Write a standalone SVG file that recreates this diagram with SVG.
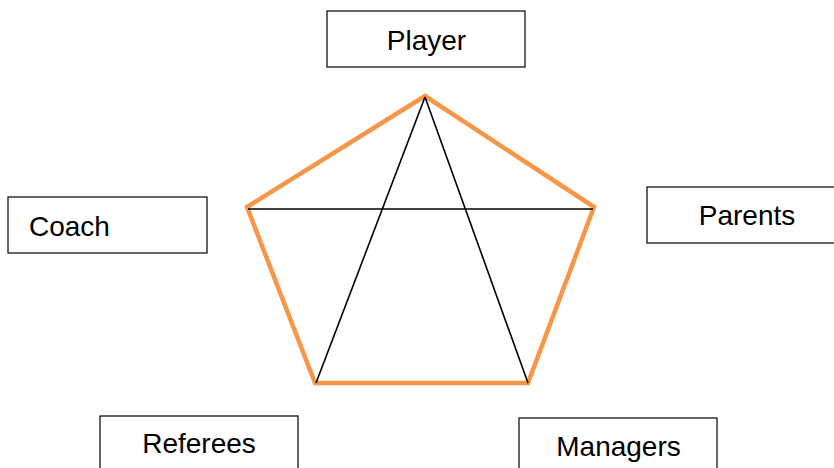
<svg xmlns="http://www.w3.org/2000/svg" width="834" height="468" viewBox="0 0 834 468">
<style>
.box{fill:#fff;stroke:#000;stroke-width:1.2}
.lbl{font-family:"Liberation Sans",Arial,sans-serif;font-size:28px;fill:#000;text-anchor:middle}
.pent{fill:none;stroke:#F79646;stroke-width:4.5;stroke-linejoin:miter}
.ln{stroke:#000;stroke-width:1.6;fill:none}
</style>
<rect width="834" height="468" fill="#fff"/>
<g id="connectors">
<polygon class="pent" points="425,96 594,207 528,383 315,383 247,207"/>
<line class="ln" x1="248" y1="209" x2="593" y2="209"/>
<line class="ln" x1="425" y1="97" x2="316" y2="383"/>
<line class="ln" x1="425" y1="97" x2="528" y2="383"/>
</g>
<g id="player"><rect class="box" x="327" y="11" width="198" height="56"/><text class="lbl" x="426.5" y="50">Player</text></g>
<g id="coach"><rect class="box" x="8" y="197" width="199" height="56"/><text class="lbl" x="29" y="236" style="text-anchor:start">Coach</text></g>
<g id="parents"><rect class="box" x="647" y="187" width="198" height="56"/><text class="lbl" x="747" y="225">Parents</text></g>
<g id="referees"><rect class="box" x="100" y="416" width="198" height="56"/><text class="lbl" x="199" y="453">Referees</text></g>
<g id="managers"><rect class="box" x="519" y="418" width="198" height="56"/><text class="lbl" x="618.5" y="456">Managers</text></g>
</svg>
